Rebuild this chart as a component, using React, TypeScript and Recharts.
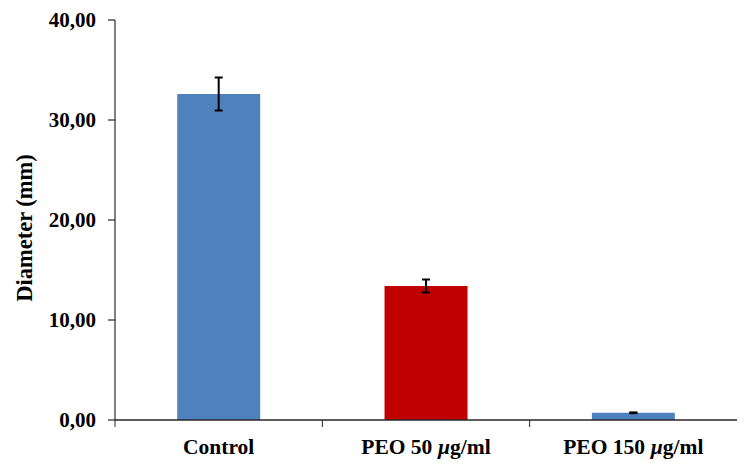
import React from 'react';
import { BarChart, Bar, XAxis, YAxis, Cell, ErrorBar } from 'recharts';

const categories = ['Control', 'PEO 50 µg/ml', 'PEO 150 µg/ml'];
const diameters = [32.6, 13.4, 0.72];
const errors = [1.65, 0.65, 0.04];
const barColors = ['#4F81BD', '#C00000', '#4F81BD'];
const yTicks = [0, 10, 20, 30, 40];

const W = 750;
const H = 474;
const LEFT = 115;
const RIGHT = 13;
const BAND = (W - LEFT - RIGHT) / categories.length;

const FONT = '"Liberation Serif", "Times New Roman", serif';

const data = categories.map((name, i) => ({
  name,
  value: diameters[i],
  err: errors[i],
}));

// category label with the unit prefix in italics, plus a tick on the left band edge
const XTick = (props: any) => {
  const { x, y, payload } = props;
  const label: string = payload.value;
  const parts = label.split('µ');
  return (
    <g>
      <line x1={x - BAND / 2} x2={x - BAND / 2} y1={y} y2={y + 7} stroke="#262626" strokeWidth={1} />
      <text x={x} y={y + 34} textAnchor="middle" fontFamily={FONT} fontWeight="bold" fontSize={21.5} fill="#000">
        {parts.length > 1 ? (
          <>
            <tspan>{parts[0]}</tspan>
            <tspan fontStyle="italic">µ</tspan>
            <tspan>{parts[1]}</tspan>
          </>
        ) : (
          label
        )}
      </text>
    </g>
  );
};

const YLabel = () => (
  <text
    x={32}
    y={228}
    transform="rotate(-90, 32, 228)"
    textAnchor="middle"
    fontFamily={FONT}
    fontWeight="bold"
    fontSize={22.5}
    fill="#000"
  >
    Diameter (mm)
  </text>
);

export default function App() {
  return (
    <div style={{ position: 'absolute', left: 0, top: 0, width: W, height: H, background: '#fff' }}>
      <BarChart width={W} height={H} data={data} margin={{ top: 20, right: RIGHT, left: 0, bottom: 0 }} barCategoryGap="30%">
        <XAxis
          dataKey="name"
          height={54}
          tickLine={false}
          tickSize={0}
          tickMargin={0}
          axisLine={{ stroke: '#262626', strokeWidth: 1.5 }}
          tick={<XTick />}
          interval={0}
        />
        <YAxis
          width={LEFT}
          domain={[0, 40]}
          ticks={yTicks}
          tickFormatter={(v: number) => v.toFixed(2).replace('.', ',')}
          tickSize={7}
          tickMargin={12}
          axisLine={{ stroke: '#000' }}
          tickLine={{ stroke: '#000' }}
          tick={{ fontFamily: FONT, fontWeight: 'bold', fontSize: 21, fill: '#000' }}
          label={<YLabel />}
        />
        <Bar dataKey="value" isAnimationActive={false}>
          {data.map((d, i) => (
            <Cell key={d.name} fill={barColors[i]} />
          ))}
          <ErrorBar dataKey="err" width={4} strokeWidth={2} stroke="#000" isAnimationActive={false} />
        </Bar>
      </BarChart>
    </div>
  );
}
